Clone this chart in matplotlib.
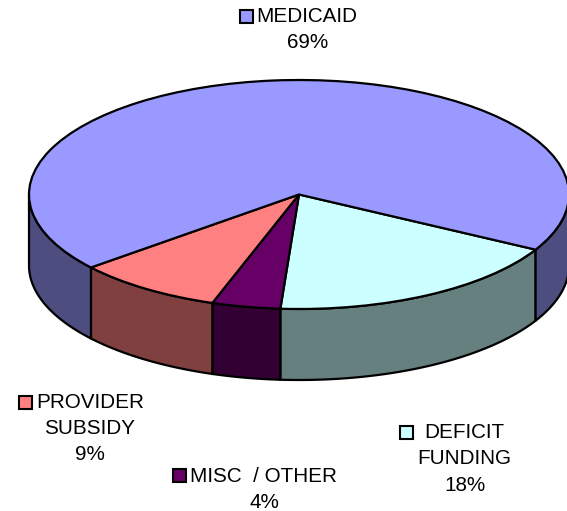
import numpy as np
import matplotlib
matplotlib.use('Agg')
import matplotlib.pyplot as plt
from matplotlib.patches import Rectangle

plt.rcParams['font.family'] = ['Liberation Sans', 'DejaVu Sans']

# clockwise from the medicaid/deficit edge
names = ['DEFICIT\nFUNDING', 'MISC  / OTHER', 'PROVIDER\nSUBSIDY', 'MEDICAID']
shares = [18.1, 4.1, 8.8, 69.0]
tops = ['#CCFFFF', '#660066', '#FF8080', '#9999FF']
sides = ['#668080', '#330033', '#804040', '#4D4D80']

W, H = 567, 511
cx, cy, rx, ry, depth = 299, 194.5, 270, 114.5, 71
start = -28.8

fig = plt.figure(figsize=(W / 100, H / 100), dpi=100)

# pie axes: one data unit is one radius, so the circle comes out squashed
ax = fig.add_axes([0, 0, 1, 1])
ax.pie(shares, colors=tops, startangle=start, counterclock=False, radius=1,
       wedgeprops=dict(edgecolor='black', linewidth=1.6, zorder=3))
ax.set_aspect('auto')
ax.set_xlim(-cx / rx, (W - cx) / rx)
ax.set_ylim((cy - H) / ry, cy / ry)

# rim of the disc, only the front half shows
d = depth / ry
edges = start - np.cumsum([0] + shares) * 3.6
for i in range(len(shares)):
    a1, a2 = edges[i], edges[i + 1]
    for lo, hi in [(max(a2, -180), min(a1, 0)), (max(a2, -540), min(a1, -360))]:
        if hi <= lo:
            continue
        t = np.radians(np.linspace(lo, hi, 80))
        x = np.cos(t)
        y = np.sin(t)
        ax.fill(np.r_[x, x[::-1]], np.r_[y, y[::-1] - d], facecolor=sides[i],
                edgecolor='black', linewidth=1.6, zorder=2, clip_on=True)

# labels in pixel coordinates
ov = fig.add_axes([0, 0, 1, 1])
ov.set_xlim(0, W)
ov.set_ylim(H, 0)
ov.axis('off')
fs = 14.9


def key(x, y, c):
    ov.add_patch(Rectangle((x, y), 13, 13, facecolor=c, edgecolor='black', linewidth=1.5))


def label(x, y, s, ha='center'):
    ov.text(x, y, s, fontsize=fs, ha=ha, va='center', color='black')


key(239.5, 10, tops[3])
label(256.5, 17, names[3], ha='left')
label(307.5, 43, '%.0f%%' % shares[3])

key(18.5, 396.5, tops[2])
label(36.5, 403, names[2].split('\n')[0], ha='left')
label(90, 429, names[2].split('\n')[1])
label(90, 455, '%.0f%%' % shares[2])

key(173, 469, tops[1])
label(190.5, 477, names[1], ha='left')
label(264, 503, '%.0f%%' % shares[1])

key(399.5, 426, tops[0])
label(424.5, 433, names[0].split('\n')[0], ha='left')
label(464, 459, names[0].split('\n')[1])
label(465, 485.5, '%.0f%%' % shares[0])

fig.savefig('out.png', dpi=100)
